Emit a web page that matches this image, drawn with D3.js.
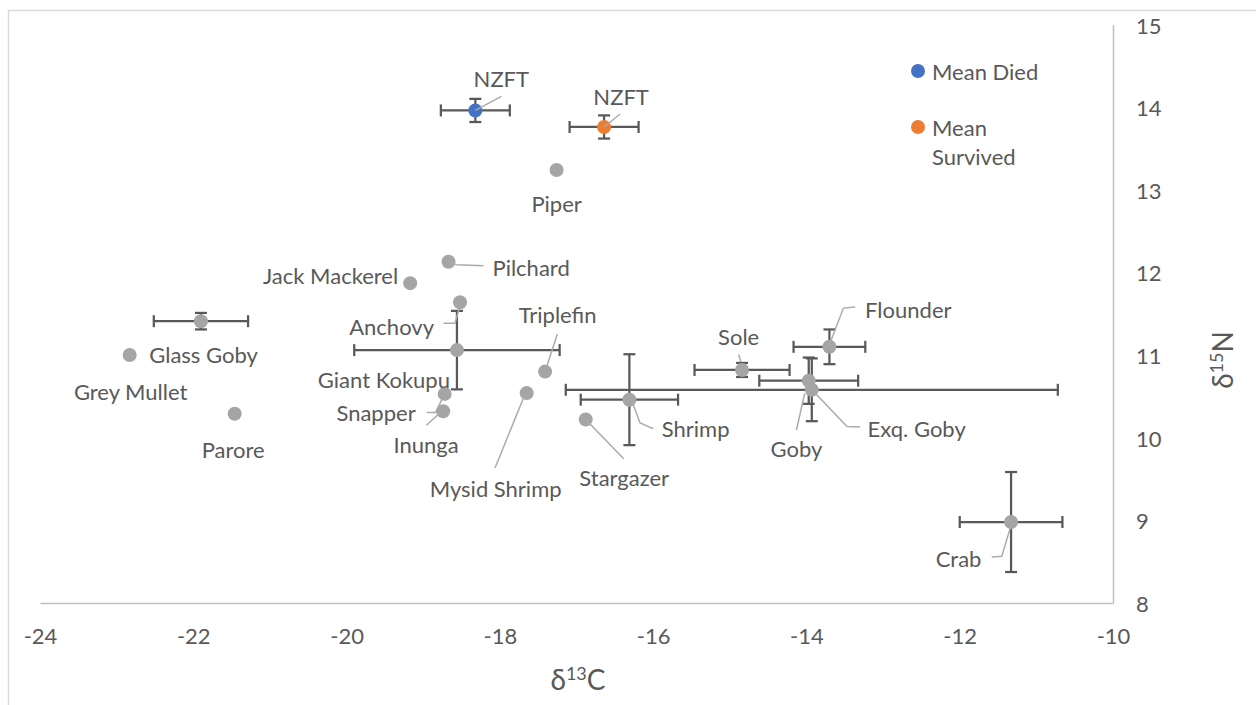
<!DOCTYPE html>
<html>
<head>
<meta charset="utf-8">
<script src="https://cdn.jsdelivr.net/npm/d3@7"></script>
<style>
  body { margin: 0; background: #fff; }
  svg { display: block; font-family: Lato, "Noto Sans", sans-serif; }
</style>
</head>
<body>
<svg id="chart" width="1256" height="705"></svg>
<script>
// species data (gray series)
const speciesNames = ["Piper", "Pilchard", "Jack Mackerel", "Anchovy", "Giant Kokupu", "Snapper", "Inunga",
  "Triplefin", "Mysid Shrimp", "Stargazer", "Shrimp", "Sole", "Flounder", "Goby", "Exq. Goby", "Crab",
  "Glass Goby", "Grey Mullet", "Parore"]
const d13C = [-17.26, -18.67, -19.17, -18.52, -18.56, -18.72, -18.74,
  -17.41, -17.65, -16.88, -16.31, -14.84, -13.70, -13.97, -13.93, -11.33,
  -21.90, -22.83, -21.46]
const d15N = [13.24, 12.13, 11.87, 11.64, 11.06, 10.53, 10.32,
  10.80, 10.54, 10.22, 10.46, 10.82, 11.10, 10.69, 10.58, 8.98,
  11.41, 11.00, 10.29]
const d13C_sd = [0, 0, 0, 0, 1.34, 0, 0,
  0, 0, 0, 0.635, 0.62, 0.468, 0.645, 3.21, 0.67,
  0.615, 0, 0]
const d15N_sd = [0, 0, 0, 0, 0.475, 0, 0,
  0, 0, 0, 0.55, 0.085, 0.21, 0.28, 0.38, 0.605,
  0.10, 0, 0]

// NZFT means
const meanNames = ["Mean Died", "Mean Survived"]
const meanC = [-18.32, -16.64]
const meanN = [13.96, 13.76]
const meanC_sd = [0.45, 0.45]
const meanN_sd = [0.14, 0.14]
const meanColors = ["#4472C4", "#ED7D31"]

const xTicks = [-24, -22, -20, -18, -16, -14, -12, -10]
const yTicks = [8, 9, 10, 11, 12, 13, 14, 15]

// label placement (pixel offsets from the point), leader lines as offset polylines
const speciesLabelLayout = {
  "Piper": { dx: 0, dy: 34, anchor: "middle" },
  "Pilchard": { dx: 44, dy: 6, anchor: "start", leader: [[0, 0], [8, 3], [35, 4]] },
  "Jack Mackerel": { dx: -12, dy: -8, anchor: "end" },
  "Anchovy": { dx: -26, dy: 24, anchor: "end", leader: [[-16.5, 21], [-5, 21], [-1, 7]] },
  "Giant Kokupu": { dx: -7, dy: 29, anchor: "end" },
  "Snapper": { dx: -29, dy: 19, anchor: "end", leader: [[-18, 18.5], [-9, 18.5], [-3, 6]] },
  "Inunga": { dx: -17, dy: 33, anchor: "middle", leader: [[-16.6, 14], [-1.6, 0]] },
  "Triplefin": { dx: 12.5, dy: -57, anchor: "middle", leader: [[12.3, -37.7], [1.7, -5]] },
  "Mysid Shrimp": { dx: -31, dy: 95, anchor: "middle", leader: [[-2, 2], [-31.7, 75]] },
  "Stargazer": { dx: 38.5, dy: 58.3, anchor: "middle", leader: [[0, 0], [38, 39.3]] },
  "Shrimp": { dx: 32.4, dy: 29.3, anchor: "start", leader: [[2, 0], [10.7, 23.3], [24, 29]] },
  "Sole": { dx: -3.4, dy: -33.8, anchor: "middle", leader: [[-3.4, -15.5], [-1, -8]] },
  "Flounder": { dx: 35.7, dy: -37, anchor: "start", leader: [[0, -2], [14, -38.7], [25.7, -39.7]] },
  "Goby": { dx: -12.3, dy: 68.3, anchor: "middle", leader: [[-12.3, 49.3], [-4, 12.6]] },
  "Exq. Goby": { dx: 55.8, dy: 39, anchor: "start", leader: [[48.5, 37.3], [35.2, 36.7], [4, 4]] },
  "Crab": { dx: -52.5, dy: 36.6, anchor: "middle", leader: [[-19.3, 35], [-9.3, 34.3], [-1, 6.6]] },
  "Glass Goby": { dx: -51.7, dy: 33.3, anchor: "start" },
  "Grey Mullet": { dx: 1, dy: 36.7, anchor: "middle" },
  "Parore": { dx: -1.5, dy: 35.3, anchor: "middle" }
}
const meanLabelLayout = [
  { text: "NZFT", dx: 26, dy: -32, anchor: "middle", leader: [[0, 0], [26, -14]] },
  { text: "NZFT", dx: 17, dy: -30, anchor: "middle", leader: [[0, 0], [16, -13]] }
]

var svg = d3.select("#chart")
var textColor = "#595959", barColor = "#595959", gray = "#A5A5A5", leaderColor = "#ABABAB"
var fontSize = 22, r = 7, cap = 6

// outer chart frame
svg.append("rect").attr("x", 8.5).attr("y", 10.5).attr("width", 1300).attr("height", 800)
  .attr("fill", "none").attr("stroke", "#D9D9D9").attr("stroke-width", 1.5)

var xScale = d3.scaleLinear().domain([-24, -10]).range([40, 1113])
var yScale = d3.scaleLinear().domain([8, 15]).range([603, 24.5])
// plain hyphen for negatives, like the original
var tickFmt = v => String(v)

// axes
var xAxis = svg.append("g").attr("transform", "translate(0," + yScale(8) + ")")
  .call(d3.axisBottom(xScale).tickValues(xTicks).tickSize(0).tickPadding(22).tickFormat(tickFmt))
xAxis.select(".domain").attr("stroke", "#BFBFBF").attr("stroke-width", 1.5)
xAxis.selectAll("text").attr("fill", textColor).attr("font-size", fontSize).attr("font-family", "Lato, sans-serif")
  .attr("dy", null).attr("y", 32).attr("dominant-baseline", "central")

var yAxis = svg.append("g").attr("transform", "translate(" + xScale(-10) + ",0)")
  .call(d3.axisRight(yScale).tickValues(yTicks).tickSize(0).tickPadding(23).tickFormat(tickFmt))
yAxis.select(".domain").attr("stroke", "#BFBFBF").attr("stroke-width", 1.5)
yAxis.selectAll("text").attr("fill", textColor).attr("font-size", fontSize).attr("font-family", "Lato, sans-serif")
  .attr("dy", null).attr("dominant-baseline", "central")

// axis titles
var xTitle = svg.append("text").attr("x", 578).attr("y", 690).attr("text-anchor", "middle")
  .attr("fill", textColor).attr("font-size", 28)
xTitle.append("tspan").text("δ")
xTitle.append("tspan").text("13").attr("font-size", 18).attr("dy", -10)
xTitle.append("tspan").text("C").attr("dy", 10)

var yTitle = svg.append("text").attr("transform", "translate(1233,360) rotate(-90)").attr("text-anchor", "middle")
  .attr("fill", textColor).attr("font-size", 28)
yTitle.append("tspan").text("δ")
yTitle.append("tspan").text("15").attr("font-size", 18).attr("dy", -10)
yTitle.append("tspan").text("N").attr("dy", 10)

// build point tables
var species = speciesNames.map((n, i) => ({ name: n, x: d13C[i], y: d15N[i], xe: d13C_sd[i], ye: d15N_sd[i], color: gray, lab: speciesLabelLayout[n] }))
  .concat(meanNames.map((n, i) => ({ name: n, x: meanC[i], y: meanN[i], xe: meanC_sd[i], ye: meanN_sd[i], color: meanColors[i], lab: meanLabelLayout[i] })))

// error bars
var eb = svg.append("g").attr("stroke", barColor).attr("stroke-width", 2.25)
species.forEach(d => {
  var cx = xScale(d.x), cy = yScale(d.y)
  if (d.xe > 0) {
    var x1 = xScale(d.x - d.xe), x2 = xScale(d.x + d.xe)
    eb.append("line").attr("x1", x1).attr("x2", x2).attr("y1", cy).attr("y2", cy)
    eb.append("line").attr("x1", x1).attr("x2", x1).attr("y1", cy - cap).attr("y2", cy + cap)
    eb.append("line").attr("x1", x2).attr("x2", x2).attr("y1", cy - cap).attr("y2", cy + cap)
  }
  if (d.ye > 0) {
    var y1 = yScale(d.y - d.ye), y2 = yScale(d.y + d.ye)
    eb.append("line").attr("x1", cx).attr("x2", cx).attr("y1", y1).attr("y2", y2)
    eb.append("line").attr("x1", cx - cap).attr("x2", cx + cap).attr("y1", y1).attr("y2", y1)
    eb.append("line").attr("x1", cx - cap).attr("x2", cx + cap).attr("y1", y2).attr("y2", y2)
  }
})

// markers
svg.append("g").selectAll("circle").data(species).join("circle")
  .attr("cx", d => xScale(d.x)).attr("cy", d => yScale(d.y)).attr("r", r)
  .attr("fill", d => d.color)

// leader lines
var line = d3.line()
svg.append("g").selectAll("path").data(species.filter(d => d.lab.leader)).join("path")
  .attr("d", d => line(d.lab.leader.map(p => [xScale(d.x) + p[0], yScale(d.y) + p[1]])))
  .attr("fill", "none").attr("stroke", leaderColor).attr("stroke-width", 1.5)

// data labels
svg.append("g").selectAll("text").data(species).join("text")
  .attr("x", d => xScale(d.x) + d.lab.dx).attr("y", d => yScale(d.y) + d.lab.dy)
  .attr("text-anchor", d => d.lab.anchor).attr("dominant-baseline", "central")
  .attr("fill", textColor).attr("font-size", fontSize)
  .text(d => d.lab.text || d.name)

// legend
var legend = svg.append("g")
legend.selectAll("circle").data(meanNames).join("circle")
  .attr("cx", 918).attr("cy", (d, i) => 71 + i * 56).attr("r", r).attr("fill", (d, i) => meanColors[i])
var legendText = legend.selectAll("text").data(meanNames).join("text")
  .attr("x", 932).attr("y", (d, i) => 71 + i * 56).attr("dominant-baseline", "central")
  .attr("fill", textColor).attr("font-size", fontSize)
// "Mean Survived" wraps onto two lines in the legend
legendText.each(function (d, i) {
  var words = i == 0 ? [d] : d.split(" ")
  d3.select(this).selectAll("tspan").data(words).join("tspan")
    .attr("x", 932).attr("dy", (w, j) => j == 0 ? 0 : 29).text(w => w)
})
</script>
</body>
</html>
